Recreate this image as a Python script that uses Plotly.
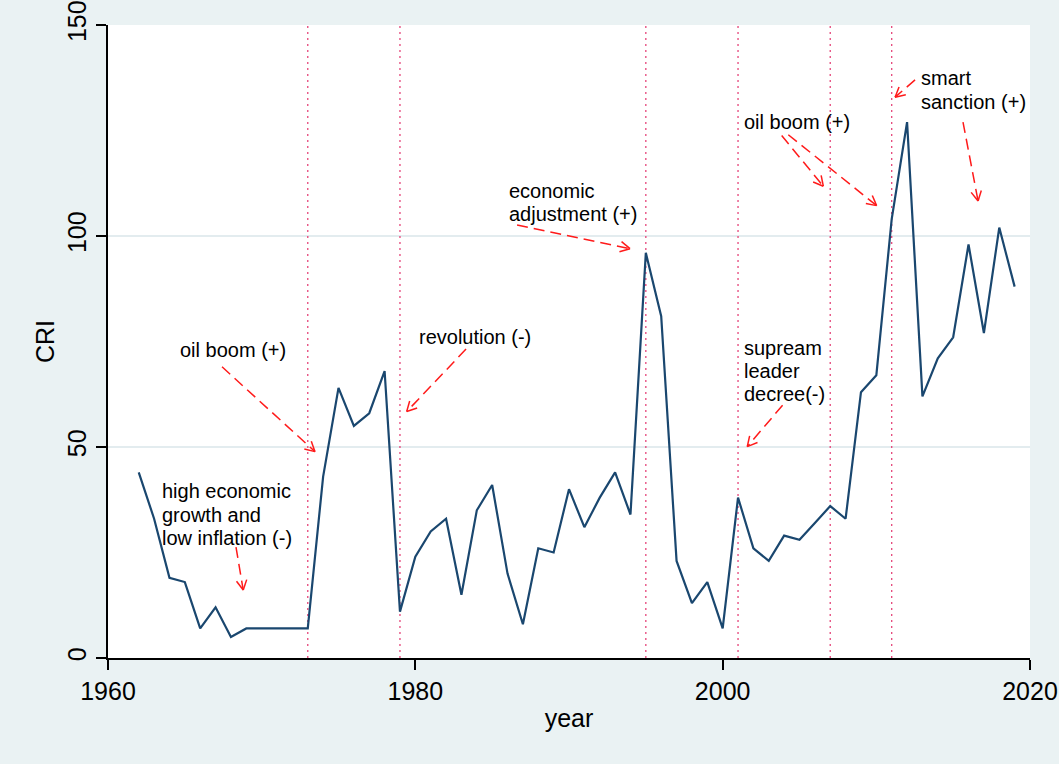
import math
import plotly.graph_objects as go

# ---------------- data ----------------
years = list(range(1962, 2020))
cri = [44, 33, 19, 18, 7, 12, 5, 7, 7, 7, 7, 7, 43, 64, 55, 58, 68, 11,
       24, 30, 33, 15, 35, 41, 20, 8, 26, 25, 40, 31, 38, 44, 34, 96, 81,
       23, 13, 18, 7, 38, 26, 23, 29, 28, 32, 36, 33, 63, 67, 104, 127, 62,
       71, 76, 98, 77, 102, 88]
event_years = [1973, 1979, 1995, 2001, 2007, 2011]

x_ticks = [1960, 1980, 2000, 2020]
y_ticks = [0, 50, 100, 150]

# annotation text lines: (text, x, y) in axis units (left-anchored)
labels = [
    ("high economic", 1963.45, 39.5),
    ("growth and", 1963.45, 34.0),
    ("low inflation (-)", 1963.45, 28.5),
    ("oil boom (+)", 1964.65, 73.0),
    ("revolution (-)", 1980.15, 76.0),
    ("economic", 1986.05, 110.65),
    ("adjustment (+)", 1986.05, 105.15),
    ("oil boom (+)", 2001.3, 127.0),
    ("smart", 2012.87, 137.35),
    ("sanction (+)", 2012.87, 131.85),
    ("supream", 2001.3, 73.5),
    ("leader", 2001.3, 68.0),
    ("decree(-)", 2001.3, 62.5),
]

# arrows: (tail_x, tail_y, head_x, head_y) in axis units
arrows = [
    (1968.33, 26.3, 1968.80, 16.1),
    (1967.42, 69.0, 1973.47, 48.9),
    (1983.30, 73.2, 1979.44, 58.4),
    (1986.62, 102.6, 1993.97, 97.0),
    (2003.84, 123.8, 2006.55, 111.8),
    (2004.27, 124.0, 2010.02, 107.2),
    (2003.90, 59.9, 2001.60, 50.1),
    (2015.64, 127.0, 2016.62, 108.3),
    (2012.52, 137.0, 2011.22, 132.9),
]

# ---------------- layout geometry ----------------
W, H = 1059, 764
ML, MR, MT, MB = 108, 29, 25, 106
XR = [1960, 2020]
YR = [0, 150]
px_per_x = (W - ML - MR) / (XR[1] - XR[0])
px_per_y = (H - MT - MB) / (YR[1] - YR[0])

FONT = "Liberation Sans, Arial, Helvetica, sans-serif"
BG = "#EAF2F3"
NAVY = "#1A476F"

fig = go.Figure()
fig.add_trace(go.Scatter(
    x=years, y=cri, mode="lines",
    line=dict(color=NAVY, width=2.2),
    showlegend=False, hoverinfo="x+y",
))

shapes = []
for ey in event_years:
    shapes.append(dict(type="line", xref="x", yref="y", x0=ey, x1=ey,
                       y0=YR[0], y1=YR[1], layer="between",
                       line=dict(color="#E5457A", width=1.3, dash="2px,4px")))

RED = "#FF1A1A"
for tx, ty, hx, hy in arrows:
    shapes.append(dict(type="line", xref="x", yref="y", x0=tx, y0=ty, x1=hx, y1=hy,
                       line=dict(color=RED, width=1.5, dash="11px,6px")))
    # open arrowhead computed in pixel space
    dx = (hx - tx) * px_per_x
    dy = (hy - ty) * px_per_y
    L = math.hypot(dx, dy)
    ux, uy = dx / L, dy / L
    bl = 11.0
    for ang in (math.radians(28), -math.radians(28)):
        rx = ux * math.cos(ang) - uy * math.sin(ang)
        ry = ux * math.sin(ang) + uy * math.cos(ang)
        bx = hx - rx * bl / px_per_x
        by = hy - ry * bl / px_per_y
        shapes.append(dict(type="line", xref="x", yref="y", x0=hx, y0=hy, x1=bx, y1=by,
                           line=dict(color=RED, width=1.5)))

annotations = []
for text, x, y in labels:
    annotations.append(dict(text=text, x=x, y=y, xref="x", yref="y",
                            xanchor="left", yanchor="middle", showarrow=False,
                            borderpad=0,
                            font=dict(family=FONT, size=20, color="black")))

fig.update_layout(
    width=W, height=H,
    margin=dict(l=ML, r=MR, t=MT, b=MB, pad=0, autoexpand=False),
    paper_bgcolor=BG, plot_bgcolor="white",
    font=dict(family=FONT, color="black"),
    shapes=shapes, annotations=annotations,
    showlegend=False,
)
fig.update_xaxes(
    range=XR, tickvals=x_ticks, ticktext=[str(v) for v in x_ticks],
    showgrid=False, zeroline=False, automargin=False,
    showline=True, linecolor="black", linewidth=1.5,
    ticks="outside", ticklen=10, tickwidth=1.5, tickcolor="black",
    tickfont=dict(family=FONT, size=25, color="black"),
    title=dict(text="year", font=dict(family=FONT, size=25, color="black"), standoff=6),
)
fig.update_yaxes(
    range=YR, tickvals=y_ticks, ticktext=[str(v) for v in y_ticks],
    showgrid=True, gridcolor="#E3ECEF", gridwidth=1.5, zeroline=False, automargin=False,
    showline=True, linecolor="black", linewidth=1.5,
    ticks="outside", ticklen=10, tickwidth=1.5, tickcolor="black",
    tickangle=-90,
    tickfont=dict(family=FONT, size=25, color="black"),
    title=dict(text="CRI", font=dict(family=FONT, size=25, color="black"), standoff=2),
)

fig.write_html(
    "out.html",
    config={"displayModeBar": False},
    post_script="document.body.style.margin='0';document.body.style.overflow='hidden';",
)
